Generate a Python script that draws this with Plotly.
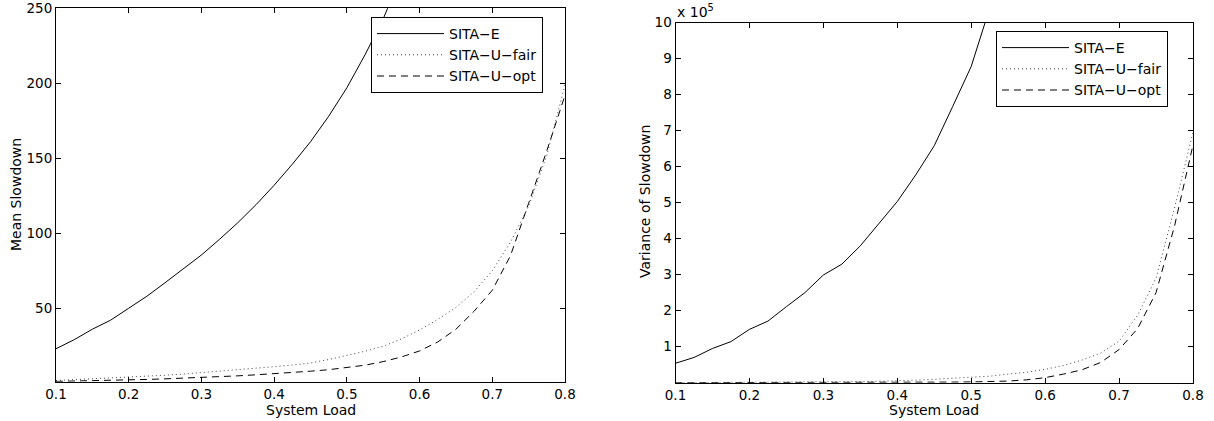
import plotly.graph_objects as go

# ---------------- data ----------------
system_load = [0.1, 0.125, 0.15, 0.175, 0.2, 0.225, 0.25, 0.275, 0.3, 0.325,
               0.35, 0.375, 0.4, 0.425, 0.45, 0.475, 0.5, 0.525, 0.55, 0.575,
               0.6, 0.625, 0.65, 0.675, 0.7, 0.725, 0.75, 0.775, 0.8]

series_names = ["SITA\u2212E", "SITA\u2212U\u2212fair", "SITA\u2212U\u2212opt"]

mean_sita_e = [23, 29, 36, 42, 50, 58, 67, 76, 85.5, 96,
               107, 119, 132, 146, 161, 178, 197, 219, 243, 272,
               305, 345, 390, 445, 510, 590, 690, 820, 990]
mean_sita_u_fair = [1.8, 2.3, 2.8, 3.3, 4.0, 4.6, 5.3, 6.1, 7.0, 7.9,
                    8.9, 9.9, 11.0, 12.1, 13.5, 15.8, 18.5, 21.3, 24.6, 29.5,
                    35.5, 42.5, 50.5, 61, 75, 94, 118, 152, 199]
mean_sita_u_opt = [1.2, 1.4, 1.6, 1.9, 2.2, 2.5, 2.9, 3.3, 3.8, 4.3,
                   4.9, 5.6, 6.3, 7.1, 8.0, 9.0, 10.3, 12.0, 14.4, 17.5,
                   21.5, 27.5, 36, 48, 62, 85, 120, 155, 192]

# variance of slowdown, in units of 10^5
var_sita_e = [0.54, 0.70, 0.95, 1.14, 1.48, 1.71, 2.11, 2.50, 2.99, 3.29,
              3.80, 4.43, 5.03, 5.77, 6.58, 7.67, 8.78, 10.4, 12.3, 14.6,
              17.5, 21, 25.5, 31, 38, 47, 58, 72, 90]
var_sita_u_fair = [0.002, 0.003, 0.004, 0.005, 0.007, 0.009, 0.012, 0.015, 0.019, 0.024,
                   0.03, 0.04, 0.05, 0.07, 0.095, 0.12, 0.15, 0.18, 0.24, 0.29,
                   0.37, 0.48, 0.63, 0.82, 1.15, 1.87, 2.9, 4.85, 6.95]
var_sita_u_opt = [0.0005, 0.0006, 0.0008, 0.001, 0.0012, 0.0015, 0.002, 0.0025, 0.003, 0.004,
                  0.005, 0.006, 0.008, 0.01, 0.013, 0.017, 0.022, 0.03, 0.045, 0.08,
                  0.14, 0.24, 0.36, 0.56, 0.92, 1.5, 2.5, 4.35, 6.6]

x_ticks = [0.1, 0.2, 0.3, 0.4, 0.5, 0.6, 0.7, 0.8]
mean_ticks = [50, 100, 150, 200, 250]
var_ticks = [1, 2, 3, 4, 5, 6, 7, 8, 9, 10]

# ---------------- styles ----------------
FONT = "DejaVu Sans, Liberation Sans, Arial, sans-serif"
styles = [
    dict(color="black", width=1, dash="solid"),
    dict(color="#444444", width=1, dash="1px,3px"),
    dict(color="black", width=1, dash="7px,5px"),
]

fig = go.Figure()

left_series = [mean_sita_e, mean_sita_u_fair, mean_sita_u_opt]
right_series = [var_sita_e, var_sita_u_fair, var_sita_u_opt]

for name, ys, st in zip(series_names, left_series, styles):
    fig.add_trace(go.Scatter(x=system_load, y=ys, mode="lines", name=name,
                             line=st, xaxis="x", yaxis="y", legend="legend"))
for name, ys, st in zip(series_names, right_series, styles):
    fig.add_trace(go.Scatter(x=system_load, y=ys, mode="lines", name=name,
                             line=st, xaxis="x2", yaxis="y2", legend="legend2"))

W, H = 1214, 421


def px_x(p):
    return p / W


def px_y(p):
    return 1 - p / H


axis_common = dict(
    showline=True, linecolor="black", linewidth=1, mirror="ticks",
    ticks="inside", ticklen=5, tickcolor="black", tickwidth=1,
    showgrid=False, zeroline=False, automargin=False,
    tickfont=dict(family=FONT, size=13.5, color="black"),
)

legend_common = dict(
    xanchor="left", yanchor="top",
    bgcolor="white", bordercolor="black", borderwidth=1,
    font=dict(family=FONT, size=14, color="black"),
    itemwidth=67, tracegroupgap=0,
)

fig.update_layout(
    width=W, height=H,
    margin=dict(l=0, r=0, t=0, b=0, pad=0, autoexpand=False),
    paper_bgcolor="white", plot_bgcolor="white",
    font=dict(family=FONT, size=14, color="black"),
    xaxis=dict(domain=[px_x(56), px_x(565)], range=[0.1, 0.8],
               tickvals=x_ticks, ticktext=[str(v) for v in x_ticks],
               anchor="y", **axis_common),
    yaxis=dict(domain=[px_y(381.7), px_y(8.3)], range=[1, 250],
               tickvals=mean_ticks, ticktext=[str(v) for v in mean_ticks],
               anchor="x", **axis_common),
    xaxis2=dict(domain=[px_x(675.5), px_x(1193)], range=[0.1, 0.8],
                tickvals=x_ticks, ticktext=[str(v) for v in x_ticks],
                anchor="y2", **axis_common),
    yaxis2=dict(domain=[px_y(382.7), px_y(22.5)], range=[0, 10],
                tickvals=var_ticks, ticktext=[str(v) for v in var_ticks],
                anchor="x2", **axis_common),
    legend=dict(x=px_x(371), y=px_y(17), **legend_common),
    legend2=dict(x=px_x(996), y=px_y(31), **legend_common),
    showlegend=True,
)

txt_font = dict(family=FONT, size=14, color="black")
annotations = [
    dict(text="System Load", x=px_x(310.5), y=px_y(410), xref="paper", yref="paper",
         xanchor="center", yanchor="middle", showarrow=False, font=txt_font),
    dict(text="System Load", x=px_x(934), y=px_y(410), xref="paper", yref="paper",
         xanchor="center", yanchor="middle", showarrow=False, font=txt_font),
    dict(text="Mean Slowdown", x=px_x(16), y=px_y(195), xref="paper", yref="paper",
         xanchor="center", yanchor="middle", showarrow=False, textangle=-90, font=txt_font),
    dict(text="Variance of Slowdown", x=px_x(645), y=px_y(202), xref="paper", yref="paper",
         xanchor="center", yanchor="middle", showarrow=False, textangle=-90, font=txt_font),
    dict(text="x 10<sup>5</sup>", x=px_x(675), y=px_y(11), xref="paper", yref="paper",
         xanchor="left", yanchor="middle", showarrow=False, font=txt_font),
]
fig.update_layout(annotations=annotations)

fig.write_html("out.html", config={"displayModeBar": False},
               post_script="document.body.style.margin='0';")
